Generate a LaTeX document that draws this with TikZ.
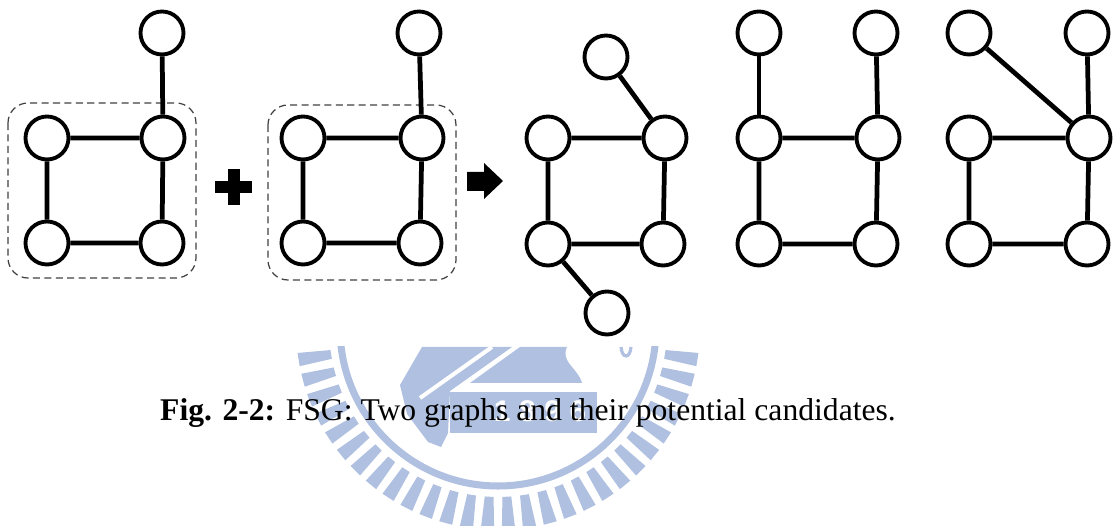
\documentclass[tikz,border=0pt]{standalone}
\usepackage{fontspec}
\setmainfont{Liberation Serif}
\newfontfamily\logofont{Liberation Sans}
\definecolor{logoblue}{RGB}{176,192,224}

\begin{document}
\begin{tikzpicture}[x=0.02cm, y=-0.02cm,
    vertex/.style={circle, draw, line width=2.2pt, minimum size=0.86cm, inner sep=0pt, fill=white},
    edge/.style={line width=2.7pt},
    group/.style={draw=black!75, line width=0.7pt, dash pattern=on 4pt off 2.5pt, rounded corners=0.4cm}]
  \useasboundingbox (0,0) rectangle (1115,526);

  % seal behind the caption
  \begin{scope}
    \clip (0,347) rectangle (1115,526);
    \foreach \a in {3,9,...,177}
      \fill[logoblue] (498,328) +(\a-1.5:169) -- +(\a+1.5:169) -- +(\a+1.9:202) -- +(\a-1.9:202) -- cycle;
    \draw[logoblue, line width=4pt] (498,328) circle (158);
    \fill[logoblue] (422,347) -- (512,347) -- (450,391) -- (448,433) -- (441,447)
      -- (428,442) -- (407,414) -- (400,385) -- cycle;
    \fill[logoblue] (520,347) -- (567,347) .. controls (560,362) and (578,368) .. (582,383)
      -- (470,383) -- cycle;
    \fill[logoblue] (450,392) rectangle (597,433);
    \draw[white, line width=2.3pt] (492,347) -- (420,398);
    \draw[logoblue, line width=1.8pt] (621,347) .. controls (622,359) and (630,359) .. (631,347);
    \node[text=white, font=\logofont\bfseries\fontsize{17}{17}\selectfont\addfontfeature{LetterSpace=29}]
      (year) at (540,411) {1896};
  \end{scope}

  % the two graphs
  \draw[group] (8,103) rectangle (196,278);
  \draw[group] (268,105) rectangle (456,280);

  \node[vertex] (g1a) at (162,33) {};
  \node[vertex] (g1b) at (47,138) {};
  \node[vertex] (g1c) at (163,138) {};
  \node[vertex] (g1d) at (47,243) {};
  \node[vertex] (g1e) at (162,243) {};
  \draw[edge] (g1a) -- (g1c);
  \draw[edge] (g1b) -- (g1c) -- (g1e) -- (g1d) -- (g1b);

  \fill (215,181) rectangle (252,193);
  \fill (228,169) rectangle (240,205);

  \node[vertex] (g2a) at (419,33) {};
  \node[vertex] (g2b) at (303,138) {};
  \node[vertex] (g2c) at (422,138) {};
  \node[vertex] (g2d) at (303,243) {};
  \node[vertex] (g2e) at (420,243) {};
  \draw[edge] (g2a) -- (g2c);
  \draw[edge] (g2b) -- (g2c) -- (g2e) -- (g2d) -- (g2b);

  \fill (467,172) -- (484,172) -- (484,163) -- (503,181) -- (484,199) -- (484,191)
    -- (467,191) -- cycle;

  % candidates
  \node[vertex] (c1a) at (606,57) {};
  \node[vertex] (c1b) at (548,138) {};
  \node[vertex] (c1c) at (665,138) {};
  \node[vertex] (c1d) at (548,244) {};
  \node[vertex] (c1e) at (663,244) {};
  \node[vertex] (c1f) at (607,313) {};
  \draw[edge] (c1a) -- (c1c);
  \draw[edge] (c1d) -- (c1f);
  \draw[edge] (c1b) -- (c1c) -- (c1e) -- (c1d) -- (c1b);

  \node[vertex] (c2a) at (759,33) {};
  \node[vertex] (c2b) at (876,33) {};
  \node[vertex] (c2c) at (759,138) {};
  \node[vertex] (c2d) at (878,138) {};
  \node[vertex] (c2e) at (759,244) {};
  \node[vertex] (c2f) at (876,244) {};
  \draw[edge] (c2a) -- (c2c);
  \draw[edge] (c2b) -- (c2d);
  \draw[edge] (c2c) -- (c2d) -- (c2f) -- (c2e) -- (c2c);

  \node[vertex] (c3a) at (969,33) {};
  \node[vertex] (c3b) at (1087,33) {};
  \node[vertex] (c3c) at (969,138) {};
  \node[vertex] (c3d) at (1089,138) {};
  \node[vertex] (c3e) at (969,244) {};
  \node[vertex] (c3f) at (1087,244) {};
  \draw[edge] (c3a) -- (c3d);
  \draw[edge] (c3b) -- (c3d);
  \draw[edge] (c3c) -- (c3d) -- (c3f) -- (c3e) -- (c3c);

  \node[font=\fontsize{18}{20}\selectfont, anchor=base] (caption) at (528,420)
    {\textbf{Fig. 2-2:} FSG: Two graphs and their potential candidates.};
\end{tikzpicture}
\end{document}
